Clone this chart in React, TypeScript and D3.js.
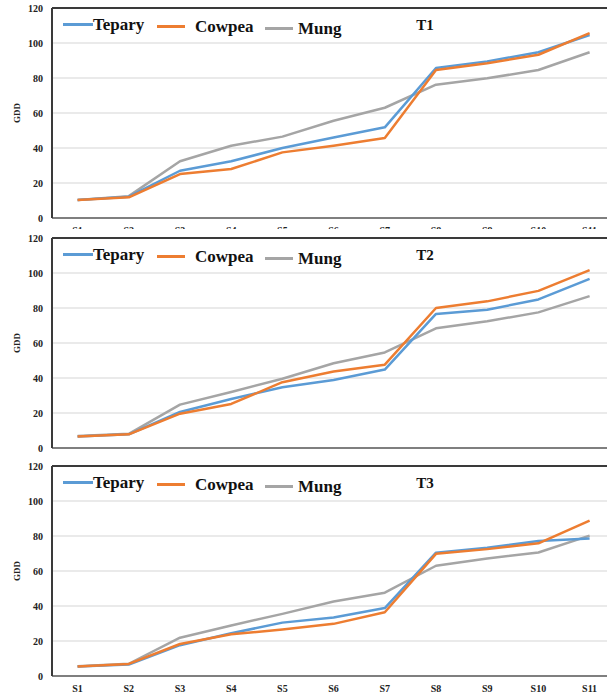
import React, { useEffect, useRef } from "react";
import * as d3 from "d3";

export const stages: string[] = ["S1", "S2", "S3", "S4", "S5", "S6", "S7", "S8", "S9", "S10", "S11"];
export const yTicks: number[] = [0, 20, 40, 60, 80, 100, 120];
export const panelNames: string[] = ["T1", "T2", "T3"];
export const cropNames: string[] = ["Tepary", "Cowpea", "Mung"];

export const teparyT1: number[] = [10.3, 12.2, 27, 32.4, 40, 46, 51.8, 85.7, 89.5, 94.7, 104.6];
export const cowpeaT1: number[] = [10.3, 11.8, 25.1, 28, 37.5, 41.3, 45.7, 84.6, 88.4, 93.3, 105.6];
export const mungT1: number[] = [10.3, 12.5, 32.4, 41.3, 46.5, 55.6, 63, 76.2, 79.8, 84.6, 94.7];

export const teparyT2: number[] = [6.6, 7.8, 20.6, 28, 34.7, 38.9, 44.8, 76.6, 79, 84.9, 96.6];
export const cowpeaT2: number[] = [6.6, 7.8, 19.6, 25.2, 37.6, 43.7, 47.6, 80, 83.8, 89.8, 101.6];
export const mungT2: number[] = [6.8, 8.1, 24.8, 32, 39.6, 48.4, 54.6, 68.4, 72.4, 77.5, 86.8];

export const teparyT3: number[] = [5.4, 6.5, 17.6, 24.4, 30.5, 33.4, 38.8, 70.5, 73.3, 77.2, 78.6];
export const cowpeaT3: number[] = [5.4, 6.9, 18.3, 23.8, 26.6, 29.8, 36.4, 69.8, 72.5, 75.8, 88.8];
export const mungT3: number[] = [5.6, 7, 21.9, 28.9, 35.5, 42.6, 47.6, 63, 67.2, 70.6, 80.2];

const colors = ["#5B9BD5", "#ED7D31", "#A5A5A5"];
const panelSeries = [
  [teparyT1, cowpeaT1, mungT1],
  [teparyT2, cowpeaT2, mungT2],
  [teparyT3, cowpeaT3, mungT3],
];
const font = "'Liberation Serif', 'Times New Roman', serif";

const App = () => {
  const ref = useRef<SVGSVGElement | null>(null);
  const width = 607;
  const height = 696;
  const plotTops = [8, 238, 466];
  const plotH = 210;
  const left = 52;
  const band = 51.2;

  useEffect(() => {
    const svg = d3.select(ref.current);
    svg.selectAll("*").remove();

    const x = d3
      .scaleBand<string>()
      .domain(stages)
      .range([left, left + band * stages.length]);

    panelSeries.forEach((series, pi) => {
      const top = plotTops[pi];
      const g = svg.append("g");

      // white sheet of this panel covers the cut-off labels of the one above
      g.append("rect")
        .attr("x", 0)
        .attr("y", top - 9)
        .attr("width", width)
        .attr("height", height - (top - 9))
        .attr("fill", "#fff");

      const y = d3.scaleLinear().domain([0, 120]).range([top + plotH, top]);

      // grid
      g.selectAll("line.grid")
        .data(yTicks.filter((t) => t > 0 && t < 120))
        .enter()
        .append("line")
        .attr("x1", left)
        .attr("x2", width)
        .attr("y1", (d) => y(d))
        .attr("y2", (d) => y(d))
        .attr("stroke", "#e3e3e3")
        .attr("stroke-width", 1.5);

      // y tick labels
      g.selectAll("text.ytick")
        .data(yTicks)
        .enter()
        .append("text")
        .attr("x", 43)
        .attr("y", (d) => y(d))
        .attr("dy", "0.35em")
        .attr("text-anchor", "end")
        .attr("font-family", font)
        .attr("font-weight", "bold")
        .attr("font-size", 10)
        .attr("fill", "#222")
        .text((d) => d);

      // x labels
      g.selectAll("text.xtick")
        .data(stages)
        .enter()
        .append("text")
        .attr("x", (d) => (x(d) as number) + x.bandwidth() / 2)
        .attr("y", top + plotH + 16)
        .attr("text-anchor", "middle")
        .attr("font-family", font)
        .attr("font-weight", "bold")
        .attr("font-size", 10)
        .attr("fill", "#222")
        .text((d) => d);

      g.append("text")
        .attr("transform", `translate(17, ${top + plotH / 2}) rotate(-90)`)
        .attr("text-anchor", "middle")
        .attr("dy", "0.35em")
        .attr("font-family", font)
        .attr("font-weight", "bold")
        .attr("font-size", 9)
        .attr("fill", "#222")
        .text("GDD");

      // frame
      g.append("line")
        .attr("x1", left).attr("x2", width)
        .attr("y1", top).attr("y2", top)
        .attr("stroke", "#3a3a3a").attr("stroke-width", 2);
      g.append("line")
        .attr("x1", left).attr("x2", width)
        .attr("y1", top + plotH).attr("y2", top + plotH)
        .attr("stroke", "#555").attr("stroke-width", 1.5);
      g.append("line")
        .attr("x1", left).attr("x2", left)
        .attr("y1", top).attr("y2", top + plotH)
        .attr("stroke", "#3a3a3a").attr("stroke-width", 2);

      const line = d3
        .line<number>()
        .x((_d, i) => (x(stages[i]) as number) + x.bandwidth() / 2)
        .y((d) => y(d));

      [2, 0, 1].forEach((si) => {
        g.append("path")
          .attr("d", line(series[si]))
          .attr("fill", "none")
          .attr("stroke", colors[si])
          .attr("stroke-width", 2.5)
          .attr("stroke-linejoin", "round");
      });

      // legend
      const legendLines = [
        [63, 93],
        [157, 185],
        [265, 293],
      ];
      const legendText = [93, 195, 298];
      const legendDy = [17, 19, 21];
      cropNames.forEach((name, i) => {
        g.append("line")
          .attr("x1", legendLines[i][0])
          .attr("x2", legendLines[i][1])
          .attr("y1", top + legendDy[i] - 0.5)
          .attr("y2", top + legendDy[i] - 0.5)
          .attr("stroke", colors[i])
          .attr("stroke-width", 3);
        g.append("text")
          .attr("x", legendText[i])
          .attr("y", top + legendDy[i])
          .attr("dy", "0.32em")
          .attr("font-family", font)
          .attr("font-weight", "bold")
          .attr("font-size", 17)
          .attr("fill", "#111")
          .text(name);
      });

      g.append("text")
        .attr("x", 425)
        .attr("y", top + 17)
        .attr("dy", "0.35em")
        .attr("text-anchor", "middle")
        .attr("font-family", font)
        .attr("font-weight", "bold")
        .attr("font-size", 15)
        .attr("fill", "#111")
        .text(panelNames[pi]);
    });
  }, []);

  return (
    <svg
      ref={ref}
      width={width}
      height={height}
      style={{ position: "absolute", left: 0, top: 0, background: "#fff" }}
    />
  );
};

export default App;
